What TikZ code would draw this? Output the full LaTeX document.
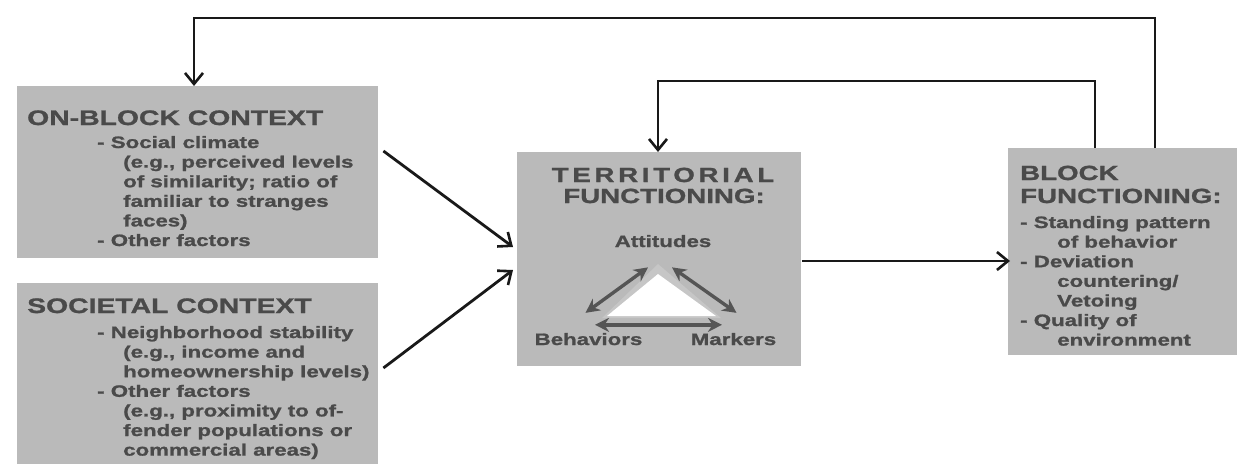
\documentclass[tikz,border=0pt]{standalone}
\usepackage{fontspec}
\usetikzlibrary{arrows.meta}
\newfontfamily\wide{Liberation Sans Bold}[FakeStretch=1.35,FakeBold=1.2]
\newfontfamily\widespaced{Liberation Sans Bold}[FakeStretch=1.35,FakeBold=1.2,LetterSpace=18]
\definecolor{boxgray}{HTML}{BABABA}
\definecolor{lightband}{HTML}{C6C6C6}
\definecolor{txtgray}{HTML}{4A4A4A}
\definecolor{arrgray}{HTML}{555555}
\tikzset{
  box/.style={fill=boxgray, draw=none, inner sep=0pt, anchor=north west},
  body/.style={text=txtgray, font=\wide\fontsize{16.5}{19.6}\selectfont, inner sep=0pt, anchor=base west},
  ttl/.style={text=txtgray, font=\wide\fontsize{21}{23}\selectfont, inner sep=0pt, anchor=base west},
  ttlb/.style={text=txtgray, font=\wide\fontsize{20.5}{23}\selectfont, inner sep=0pt},
  conn/.style={line width=2.8pt, black!90, -{Straight Barb[length=11pt,width=18pt,line width=2.6pt]}},
  darr/.style={line width=3.4pt, arrgray, {Stealth[length=14pt,width=14pt]}-{Stealth[length=14pt,width=14pt]}},
}
\begin{document}
\begin{tikzpicture}[x=1pt,y=-1pt]
\useasboundingbox (0,0) rectangle (1242,464);
% boxes
\node[box, minimum width=361pt, minimum height=172pt] (onblock) at (17,86) {};
\node[box, minimum width=361pt, minimum height=181pt] (societal) at (17,283) {};
\node[box, minimum width=284pt, minimum height=214pt] (terr) at (517,152) {};
\node[box, minimum width=229pt, minimum height=207pt] (block) at (1008,148) {};
% on-block text
\node[ttl] (obt) at (27,125) {ON-BLOCK CONTEXT};
\node[body] (obb) at (97,148) {\begin{tabular}[t]{@{}l@{}}
- Social climate\\
\hspace*{26pt}(e.g., perceived levels\\
\hspace*{26pt}of similarity; ratio of\\
\hspace*{26pt}familiar to stranges\\
\hspace*{26pt}faces)\\
- Other factors
\end{tabular}};
% societal text
\node[ttl] (sct) at (27,313) {SOCIETAL CONTEXT};
\node[body] (scb) at (97,338) {\begin{tabular}[t]{@{}l@{}}
- Neighborhood stability\\
\hspace*{26pt}(e.g., income and\\
\hspace*{26pt}homeownership levels)\\
- Other factors\\
\hspace*{26pt}(e.g., proximity to of-\\
\hspace*{26pt}fender populations or\\
\hspace*{26pt}commercial areas)
\end{tabular}};
% territorial
\node[ttlb, anchor=base] (trt1) at (663,182) {{\widespaced TERRITORIAL}};
\node[ttlb, anchor=base] (trt2) at (664,203) {FUNCTIONING:};
\fill[lightband] (658,264) -- (602,318) -- (721,318) -- cycle;
\fill[white] (658,274) -- (607,316) -- (716,316) -- cycle;
\node[body, anchor=base] (att) at (663,247) {Attitudes};
\node[body, anchor=base] (beh) at (588.5,345) {Behaviors};
\node[body, anchor=base] (mk) at (733.5,345) {Markers};
\draw[darr] ([shift={(-3,-20)}]beh.north) -- ([shift={(-15,20)}]att.south);
\draw[darr] ([shift={(9,20)}]att.south) -- ([shift={(3,-20)}]mk.north);
\draw[darr] ([shift={(6.5,-8)}]beh.north) -- ([shift={(-11.5,-8)}]mk.north);
% block functioning
\node[ttlb, anchor=base west] (bft) at (1020,180) {\begin{tabular}[t]{@{}l@{}}BLOCK\\FUNCTIONING:\end{tabular}};
\node[body] (bfb) at (1020,228) {\begin{tabular}[t]{@{}l@{}}
- Standing pattern\\
\hspace*{37pt}of behavior\\
- Deviation\\
\hspace*{37pt}countering/\\
\hspace*{37pt}Vetoing\\
- Quality of\\
\hspace*{37pt}environment
\end{tabular}};
% connectors
\draw[conn] ([shift={(5,65)}]onblock.north east) -- ([shift={(-4,95)}]terr.north west);
\draw[conn] ([shift={(5,85)}]societal.north east) -- ([shift={(-4,118)}]terr.north west);
\draw[conn] ([shift={(1,109)}]terr.north east) -- ([shift={(2,113)}]block.north west);
\draw[conn, line join=miter] ([xshift=147pt]block.north west) -- ++(0,-130) -| ([xshift=177pt]onblock.north west);
\draw[conn, line join=miter] ([xshift=87pt]block.north west) -- ++(0,-67) -| ([xshift=141pt]terr.north west);
\end{tikzpicture}
\end{document}
